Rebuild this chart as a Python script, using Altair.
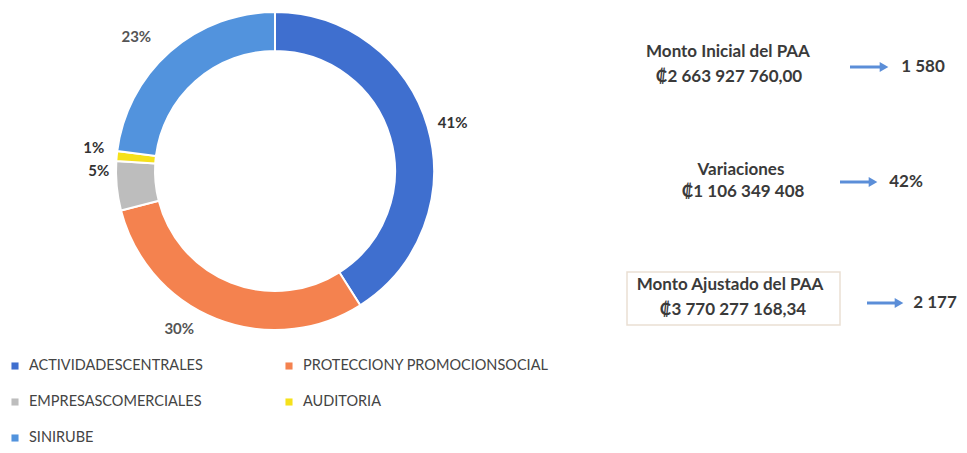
import altair as alt
import pandas as pd

# ---- data ----
categories = ["ACTIVIDADESCENTRALES", "PROTECCIONY PROMOCIONSOCIAL",
              "EMPRESASCOMERCIALES", "AUDITORIA", "SINIRUBE"]
shares = [41, 30, 5, 1, 23]
pct_labels = ["41%", "30%", "5%", "1%", "23%"]
colors = ["#3F6FCF", "#F4824F", "#BDBDBD", "#F5E11B", "#5293DD"]

summary_titles = ["Monto Inicial del PAA", "Variaciones", "Monto Ajustado del PAA"]
summary_amounts = ["₡2 663 927 760,00", "₡1 106 349 408", "₡3 770 277 168,34"]
summary_results = ["1 580", "42%", "2 177"]

FONT = "Lato"
W, H = 951, 437
CX, CY = 267, 163

df = pd.DataFrame({"cat": categories, "share": shares, "pct": pct_labels,
                   "order": list(range(len(categories)))})
color_scale = alt.Scale(domain=categories, range=colors)

base = alt.Chart(df).encode(
    theta=alt.Theta("share:Q", stack=True),
    order=alt.Order("order:Q"),
)
donut = base.mark_arc(innerRadius=120, outerRadius=159, stroke="white",
                      strokeWidth=2).encode(
    color=alt.Color("cat:N", scale=color_scale, legend=None),
    x=alt.value(CX), y=alt.value(CY),
)
layers = [donut]

# label nudges (style: Excel-like label placement)
nudges = {
    "41%": dict(dx=1, dy=3, color="#333333", fontWeight="bold"),
    "30%": dict(dx=-28, dy=-13, color="#555555", fontWeight="bold"),
    "5%": dict(dx=7, dy=-17, color="#333333", fontWeight="bold"),
    "1%": dict(dx=2, dy=-6, color="#333333", fontWeight="bold"),
    "23%": dict(dx=-17, dy=4, color="#555555", fontWeight="bold"),
}
for lab in pct_labels:
    st = nudges[lab]
    layers.append(
        base.mark_text(radius=184, fontSize=15, font=FONT, **st).encode(
            text=alt.condition(alt.datum.pct == lab, "pct:N", alt.value("")),
            x=alt.value(CX), y=alt.value(CY))
    )

# ---- custom legend (positions derived from item index) ----
leg = pd.DataFrame({"cat": categories})
leg["sx"] = [7 + (i % 2) * 274 for i in range(len(categories))]
leg["sy"] = [358 + (i // 2) * 36 for i in range(len(categories))]
leg["tx"] = leg["sx"] + 14
leg_sq = alt.Chart(leg).mark_square(size=50, opacity=1).encode(
    x=alt.X("sx:Q", scale=None), y=alt.Y("sy:Q", scale=None),
    color=alt.Color("cat:N", scale=color_scale, legend=None),
)
leg_tx = alt.Chart(leg).mark_text(align="left", baseline="middle", fontSize=14.5,
                                  font=FONT, color="#444444").encode(
    x=alt.X("tx:Q", scale=None), y=alt.Y("sy:Q", scale=None), text="cat:N",
)
layers += [leg_sq, leg_tx]

# ---- box around adjusted amount ----
box = alt.Chart(pd.DataFrame({"a": [0]})).mark_rect(
    fill="white", stroke="#EADFD3", strokeWidth=1.5).encode(
    x=alt.value(619), x2=alt.value(832), y=alt.value(264), y2=alt.value(317))
layers.append(box)

# ---- right-hand summary blocks ----
title_pos = [(720, 44), (733, 162), (722, 277)]
amount_pos = [(721, 69), (735, 184), (725, 302)]
arrow_pos = [(842, 880, 59), (832, 869, 174), (859, 895, 295)]
result_pos = [(915, 59), (898, 174), (927, 295)]
arrow_color = "#5B8ED8"

for i in range(3):
    tdf = pd.DataFrame({"t": [summary_titles[i]], "a": [summary_amounts[i]],
                        "r": [summary_results[i]]})
    c = alt.Chart(tdf)
    layers.append(c.mark_text(fontSize=17, fontWeight="bold", font=FONT,
                              color="#3a3a3a", baseline="middle").encode(
        x=alt.value(title_pos[i][0]), y=alt.value(title_pos[i][1]), text="t:N"))
    layers.append(c.mark_text(fontSize=17, fontWeight="bold", font=FONT,
                              color="#3a3a3a", baseline="middle").encode(
        x=alt.value(amount_pos[i][0]), y=alt.value(amount_pos[i][1]), text="a:N"))
    x1, x2, ya = arrow_pos[i]
    layers.append(c.mark_rule(color=arrow_color, strokeWidth=3).encode(
        x=alt.value(x1), x2=alt.value(x2 - 6), y=alt.value(ya)))
    layers.append(c.mark_point(shape="triangle-right", filled=True, size=100,
                               color=arrow_color, opacity=1).encode(
        x=alt.value(x2 - 4), y=alt.value(ya)))
    layers.append(c.mark_text(fontSize=17, fontWeight="bold", font=FONT,
                              color="#3a3a3a", baseline="middle").encode(
        x=alt.value(result_pos[i][0]), y=alt.value(result_pos[i][1]), text="r:N"))

chart = alt.layer(*layers).properties(
    width=W, height=H, padding=0,
    autosize=alt.AutoSizeParams(type="none"),
).configure_view(stroke=None).resolve_scale(color="shared")

chart.save("out.html", embed_options={"renderer": "svg", "actions": False})
